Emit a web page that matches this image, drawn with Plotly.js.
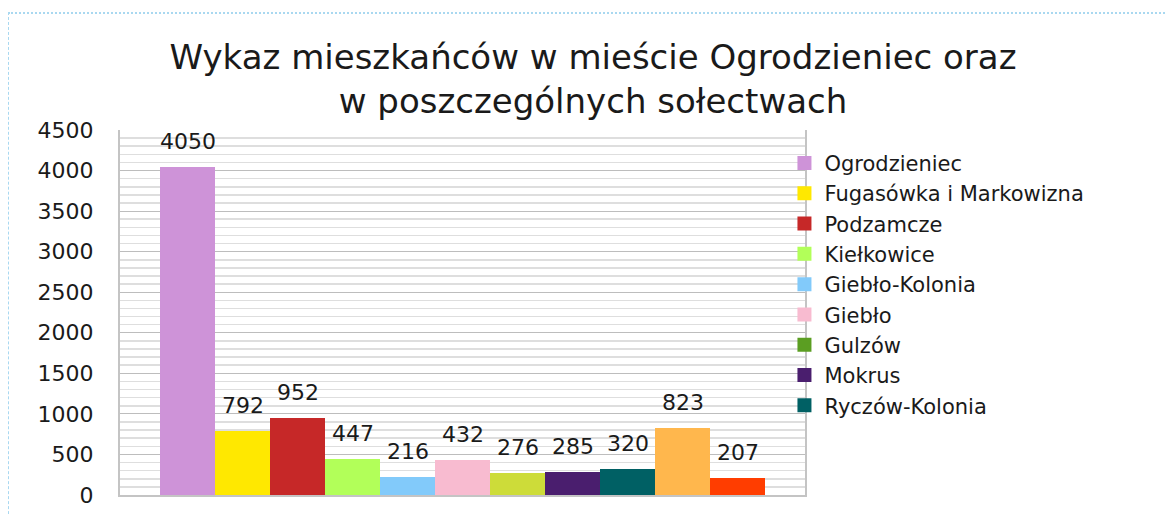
<!DOCTYPE html>
<html><head><meta charset="utf-8">
<script src="https://cdn.plot.ly/plotly-3.0.1.min.js"></script>
<style>
html,body{margin:0;padding:0;background:#fff;overflow:hidden}
#chart{width:1165px;height:514px;position:absolute;left:0;top:0}
#frame{position:absolute;left:8px;top:12px;width:1200px;height:560px;border-top:2px dotted #a9d8f0;border-left:1px dashed #a9d8f0;pointer-events:none}
</style></head><body>
<div id="chart"></div><div id="frame"></div>
<script>
const categories = ["Ogrodzieniec","Fugasówka i Markowizna","Podzamcze","Kiełkowice","Giebło-Kolonia","Giebło","Gulzów","Mokrus","Ryczów-Kolonia","Ryczów","Żelazko"];
const values = [4050, 792, 952, 447, 216, 432, 276, 285, 320, 823, 207];
const barColors = ["#CE93D8","#FFE800","#C62828","#B2FF59","#82CAFA","#F8BBD0","#CDDC39","#4A1E6E","#006064","#FFB74D","#FF3D00"];
const legendNames = ["Ogrodzieniec","Fugasówka i Markowizna","Podzamcze","Kiełkowice","Giebło-Kolonia","Giebło","Gulzów","Mokrus","Ryczów-Kolonia"];
const legendColors = ["#CE93D8","#FFE800","#C62828","#B2FF59","#82CAFA","#F8BBD0","#5B9E22","#4A1E6E","#006064"];
const titleLines = ["Wykaz mieszkańców w mieście Ogrodzieniec oraz","w poszczególnych sołectwach"];

const FONT = "DejaVu Sans, sans-serif";
const idx = categories.map((c,i)=>i);

const traces = [{
  type:'bar', x: idx, y: values, width: 1,
  marker:{color: barColors, line:{width:0}},
  hovertext: categories, hovertemplate:'%{hovertext}: %{y}<extra></extra>',
  textposition:'none',
  showlegend:false
}];
legendNames.forEach((n,i)=>{
  traces.push({type:'scatter', mode:'markers', x:[null], y:[null], name:n,
    marker:{symbol:'square', size:14, color:legendColors[i]}, showlegend:true});
});

const annotations = values.map((v,i)=>({
  x: idx[i], y: v, xref:'x', yref:'y', text: String(v), showarrow:false,
  yanchor:'bottom', xanchor:'center', yshift: 11,
  font:{family:FONT, size:22, color:'#1a1a1a'}
}));

const layout = {
  width:1165, height:514,
  margin:{l:120, r:360, t:130, b:19},
  paper_bgcolor:'#fff', plot_bgcolor:'#fff',
  title:{text: titleLines.join('<br>'), x:0.509, xanchor:'center', yref:'container', y:0.866, yanchor:'middle',
    font:{family:FONT, size:34, color:'#1a1a1a'}},
  bargap:0,
  xaxis:{range:[-1.2273, 11.2273], showticklabels:false, showgrid:false, zeroline:false,
    showline:true, linecolor:'#c4c4c4', linewidth:2, ticks:'', fixedrange:true},
  yaxis:{range:[0,4500], dtick:500, tick0:0, showgrid:true, gridcolor:'#bdbdbd', gridwidth:1,
    minor:{dtick:100, showgrid:true, gridcolor:'#dedede', gridwidth:1.5},
    zeroline:false, showline:true, mirror:true, linecolor:'#c4c4c4', linewidth:2, ticks:'',
    ticklabelstandoff:20,
    tickfont:{family:FONT, size:22, color:'#1a1a1a'}, fixedrange:true},
  legend:{x:0.97, xanchor:'left', y:0.965, yanchor:'top', bgcolor:'rgba(0,0,0,0)',
    font:{family:FONT, size:21, color:'#1a1a1a'}, itemclick:false, itemdoubleclick:false},
  annotations: annotations,
  showlegend:true
};
Plotly.newPlot('chart', traces, layout, {displayModeBar:false, staticPlot:true});
</script>
</body></html>
